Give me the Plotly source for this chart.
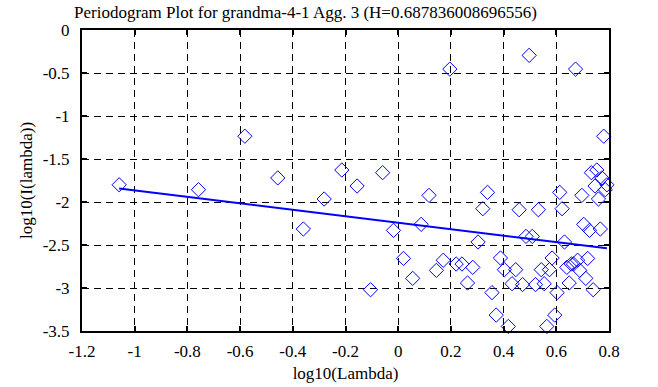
import plotly.graph_objects as go

# log10(lambda) for each periodogram ordinate
log_lambda = [
    -1.059, -0.758, -0.582, -0.457, -0.360, -0.281, -0.214, -0.156, -0.105, -0.059,
    -0.018, 0.020, 0.055, 0.087, 0.117, 0.145, 0.171, 0.196, 0.220, 0.242,
    0.263, 0.283, 0.303, 0.321, 0.339, 0.356, 0.372, 0.388, 0.403, 0.418,
    0.432, 0.446, 0.459, 0.472, 0.485, 0.497, 0.509, 0.521, 0.532, 0.543,
    0.554, 0.564, 0.574, 0.584, 0.594, 0.603, 0.613, 0.622, 0.631, 0.640,
    0.649, 0.657, 0.665, 0.673, 0.681, 0.689, 0.697, 0.704, 0.712, 0.719,
    0.726, 0.733, 0.740, 0.747, 0.754, 0.760, 0.767, 0.773, 0.780, 0.786,
    0.792,
]

# log10(I(lambda))
log_I = [
    -1.800, -1.857, -1.235, -1.720, -2.314, -1.965, -1.628, -1.814, -3.020, -1.659,
    -2.330, -2.656, -2.888, -2.260, -1.923, -2.795, -2.677, -0.455, -2.721, -2.721,
    -2.942, -2.760, -2.465, -2.078, -1.888, -3.054, -3.315, -2.651, -2.787, -3.447,
    -2.950, -2.787, -2.090, -2.960, -2.400, -0.295, -2.400, -2.960, -2.090, -2.787,
    -2.950, -3.447, -2.787, -2.651, -3.315, -3.054, -1.888, -2.078, -2.465, -2.760,
    -2.942, -2.721, -2.721, -0.455, -2.677, -2.795, -1.923, -2.260, -2.888, -2.656,
    -2.330, -1.659, -3.020, -1.814, -1.628, -1.965, -2.314, -1.720, -1.235, -1.857,
    -1.800,
]

# fitted regression line endpoints
fit_x = [-1.059, 0.792]
fit_y = [-1.843, -2.539]

x_ticks = [-1.2, -1.0, -0.8, -0.6, -0.4, -0.2, 0.0, 0.2, 0.4, 0.6, 0.8]
x_tick_text = ["-1.2", "-1", "-0.8", "-0.6", "-0.4", "-0.2", "0", "0.2", "0.4", "0.6", "0.8"]
y_ticks = [-3.5, -3.0, -2.5, -2.0, -1.5, -1.0, -0.5, 0.0]
y_tick_text = ["-3.5", "-3", "-2.5", "-2", "-1.5", "-1", "-0.5", "0"]

title_text = "Periodogram Plot for grandma-4-1 Agg. 3 (H=0.687836008696556)"

FONT = "Liberation Serif"
W, H = 658, 387

fig = go.Figure()
fig.add_trace(go.Scatter(
    x=log_lambda, y=log_I, mode="markers",
    marker=dict(symbol="diamond-open", size=11, color="#0000ff",
                line=dict(width=1, color="#0000ff")),
    cliponaxis=False, showlegend=False,
))
fig.add_trace(go.Scatter(
    x=fit_x, y=fit_y, mode="lines",
    line=dict(color="#0000ff", width=2),
    showlegend=False,
))

axis_common = dict(
    automargin=False,
    showline=True, linecolor="black", linewidth=2, mirror="ticks",
    ticks="inside", ticklen=5, tickwidth=2, tickcolor="black",
    showgrid=True, gridcolor="black", gridwidth=1, griddash="7px,5px",
    zeroline=False,
    tickfont=dict(family=FONT, size=17, color="black"),
)

fig.update_xaxes(
    range=[-1.2, 0.8], tickvals=x_ticks, ticktext=x_tick_text,
    title=dict(text="log10(Lambda)", font=dict(family=FONT, size=17, color="black"), standoff=7),
    ticklabelstandoff=4,
    **axis_common,
)
fig.update_yaxes(
    range=[-3.5, 0], tickvals=y_ticks, ticktext=y_tick_text,
    title=dict(text="log10(I(lambda))", font=dict(family=FONT, size=17, color="black"), standoff=6),
    ticklabelstandoff=7,
    **axis_common,
)

fig.update_layout(
    template="none",
    width=W, height=H,
    margin=dict(l=82, r=49, t=30, b=56),
    paper_bgcolor="white", plot_bgcolor="white",
    font=dict(family=FONT, size=17, color="black"),
    title=dict(text=title_text, x=74 / W, xanchor="left", xref="container",
               y=1 - 12 / H, yanchor="middle", yref="container",
               font=dict(family=FONT, size=17, color="black")),
)

fig.write_html("out.html", config={"displayModeBar": False},
               post_script="document.body.style.margin='0';")
